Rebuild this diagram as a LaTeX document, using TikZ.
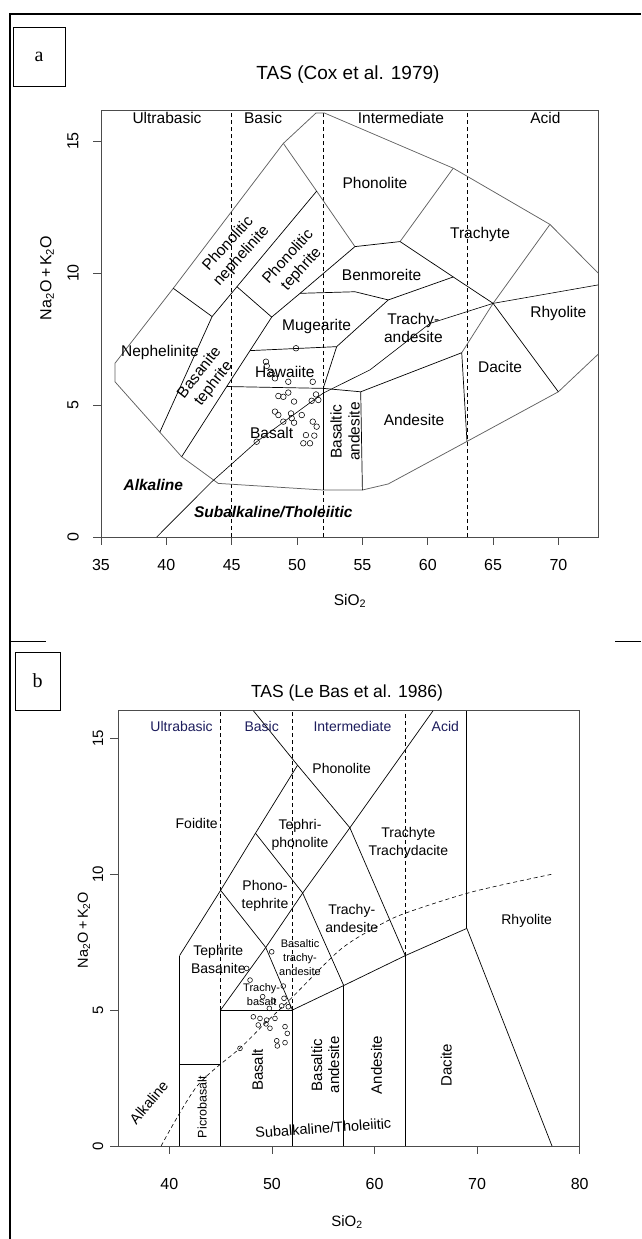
\documentclass[tikz,border=0pt]{standalone}
\usepackage{fontspec}
\setmainfont{Liberation Sans}
\newfontfamily\boxfont{Liberation Serif}
\definecolor{rimgray}{gray}{0.38}
\definecolor{zonenavy}{RGB}{28,28,92}
\tikzset{
  field/.style={line width=0.7pt},
  rim/.style={line width=0.75pt, draw=rimgray},
  zone/.style={dash pattern=on 4pt off 3pt, line width=0.6pt},
  plotframe/.style={line width=0.8pt, draw=black!70},
  alkline/.style={line width=0.6pt, dash pattern=on 4pt off 3pt},
  lbl/.style={inner sep=0pt, align=center, font=\fontsize{15.5}{18}\selectfont},
  blbl/.style={inner sep=0pt, align=center, font=\fontsize{14}{18}\selectfont},
  vlbl/.style={inner sep=0pt, align=center, font=\fontsize{15}{17}\selectfont},
  tinylbl/.style={inner sep=0pt, align=center, font=\fontsize{11}{14}\selectfont},
  ticklbl/.style={inner sep=0pt, font=\fontsize{16}{16}\selectfont},
  sample/.style={line width=0.55pt},
  panelbox/.style={draw, line width=0.8pt, inner sep=0pt, font=\boxfont\fontsize{20}{20}\selectfont},
}
\begin{document}
\begin{tikzpicture}[x=1pt,y=-1pt]
\useasboundingbox (0,0) rectangle (641,1239);
% page frame
\draw[line width=1.5pt] (10,1239) -- (10,14) -- (641,14);
\draw[line width=1pt] (10,641) -- (46,641);
\draw[line width=1pt] (615,641) -- (641,641);

% ---- panel a: Cox et al. 1979 ----
\node[panelbox, minimum width=52pt, minimum height=59pt] (taga) at (39,56.5) {a};
\node[font=\fontsize{19}{19}\selectfont] (titlea) at (348,75) {TAS (Cox et al. 1979)};
\node[font=\fontsize{15.5}{15.5}\selectfont] (xlaba) at (350,601) {SiO\textsubscript{2}};
\node[rotate=90, font=\fontsize{16}{16}\selectfont] (ylaba) at (47,278) {Na\textsubscript{2}O\,+\,K\textsubscript{2}O};
\begin{scope}[shift={(-356.45,537)}, x=13.07pt, y=26.4pt]
  \draw[plotframe] (35,0) rectangle (73.05,16.17);
  \foreach \s in {35,40,...,70} {
    \draw[plotframe] (\s,0) -- ++(0,-8pt);
    \node[ticklbl] at ([yshift=-28pt]\s,0) {\s};
  }
  \foreach \a in {0,5,10,15} {
    \draw[plotframe] (35,\a) -- ++(-8pt,0);
    \node[ticklbl, rotate=90] at ([xshift=-28pt]35,\a) {\a};
  }
  \foreach \s in {45,52,63}
    \draw[zone] (\s,0) -- (\s,16.17);
  % vertices
  \coordinate (o1) at (36.07,5.88);
  \coordinate (o2) at (36.07,6.58);
  \coordinate (o3) at (40.53,9.42);
  \coordinate (o4) at (48.95,14.91);
  \coordinate (o5) at (51.45,16.06);
  \coordinate (o6) at (52.1,16.06);
  \coordinate (o7) at (61.95,13.97);
  \coordinate (o8) at (69.35,11.84);
  \coordinate (o9) at (73.05,9.99);
  \coordinate (b1) at (41.17,3.04);
  \coordinate (b2) at (43.97,2.03);
  \coordinate (b3) at (52.0,1.78);
  \coordinate (b4) at (55.0,1.78);
  \coordinate (b5) at (56.98,2.01);
  \coordinate (b6) at (69.99,5.5);
  \coordinate (b7) at (73.05,6.93);
  \coordinate (ne) at (43.5,8.35);
  \coordinate (bt) at (39.5,3.97);
  \coordinate (pt1) at (51.5,13.1);
  \coordinate (pt2) at (45.4,9.48);
  \coordinate (pt3) at (48.06,8.33);
  \coordinate (ph) at (54.43,11.0);
  \coordinate (tr) at (57.88,11.19);
  \coordinate (bm1) at (50.23,9.23);
  \coordinate (bm2) at (54.43,9.29);
  \coordinate (bm3) at (56.98,8.98);
  \coordinate (bm4) at (61.95,9.85);
  \coordinate (jn) at (65.0,8.85);
  \coordinate (ad) at (62.6,6.98);
  \coordinate (ad0) at (63.0,3.62);
  \coordinate (hw1) at (46.4,7.06);
  \coordinate (hw2) at (53.03,7.21);
  \coordinate (bs1) at (44.62,5.7);
  \coordinate (bs2) at (52.0,5.63);
  \coordinate (bs3) at (54.87,5.5);
  % outline
  \draw[rim] (o1) -- (o2) -- (o3) -- (o4) -- (o5) -- (o6) -- (o7) -- (o8) -- (o9);
  \draw[rim] (o1) -- (bt) -- (b1) -- (b2) -- (b3) -- (b4) -- (b5) -- (ad0) -- (b6) -- (b7);
  \draw[rim] (o4) -- (pt1) -- (ph);
  \draw[rim] (tr) -- (o7);
  \draw[rim] (o8) -- (jn) -- (ad);
  % field boundaries
  \begin{scope}[field]
    \draw (o3) to (ne);
    \draw (ne) to (bt);
    \draw (ne) to (pt2);
    \draw (pt2) to (pt1);
    \draw (pt2) to (pt3);
    \draw (ph) to (bm1);
    \draw (bm1) to (pt3);
    \draw (pt3) to (hw1);
    \draw (hw1) to (bs1);
    \draw (bs1) to (b1);
    \draw (ph) to (tr);
    \draw (tr) to (bm4);
    \draw (bm4) to (jn);
    \draw (jn) to (b6);
    \draw (ad) to (ad0);
    \draw (bm1) to (bm2);
    \draw (bm2) to (bm3);
    \draw (bm3) to (bm4);
    \draw (hw1) to (hw2);
    \draw (hw2) to (bs2);
    \draw (hw2) to (bm3);
    \draw (bs1) to (bs2);
    \draw (bs2) to (bs3);
    \draw (bs3) to (ad);
    \draw (bs2) to (b3);
    \draw (bs3) to (b4);
  \end{scope}
  % alkaline / subalkaline divide
  \draw[field, line width=0.6pt] plot coordinates {(39.26,0) (43.47,2.09) (46.91,3.61) (52.0,5.45)
    (55.58,6.33) (60.17,8.09) (65.0,8.85) (73.05,9.55)};
  % samples
  \foreach \s/\a in {49.92/7.15, 47.62/6.64, 47.68/6.48, 48.06/6.2, 48.31/6.01, 49.33/5.88,
      51.2/5.88, 48.57/5.34, 48.95/5.31, 49.33/5.47, 49.77/5.13, 51.45/5.4, 51.12/5.16,
      51.63/5.19, 48.31/4.75, 48.57/4.62, 48.95/4.37, 49.54/4.68, 49.59/4.5, 49.77/4.33,
      50.36/4.62, 51.2/4.37, 51.5/4.18, 50.68/3.86, 51.32/3.84, 50.48/3.55, 50.99/3.55, 46.91/3.61}
    \draw[sample] (\s,\a) circle (2.8pt);
  % labels
  \node[lbl] (ultraa) at (40.05,15.87) {Ultrabasic};
  \node[lbl] (basica) at (47.4,15.87) {Basic};
  \node[lbl] (intera) at (57.95,15.87) {Intermediate};
  \node[lbl] (acida) at (69,15.87) {Acid};
  \node[lbl, rotate=48] (pneph) at (45.25,10.87) {Phonolitic\\nephelinite};
  \node[lbl, rotate=48] (pteph) at (49.84,10.37) {Phonolitic\\tephrite};
  \node[lbl] (neph) at (39.51,6.98) {Nephelinite};
  \node[lbl, rotate=52] (btep) at (43.09,6.01) {Basanite\\tephrite};
  \node[lbl] (phona) at (55.96,13.4) {Phonolite};
  \node[lbl] (tracha) at (64.0,11.44) {Trachyte};
  \node[lbl] (benm) at (56.47,9.92) {Benmoreite};
  \node[lbl] (mug) at (51.5,7.97) {Mugearite};
  \node[lbl] (haw) at (49.07,6.26) {Hawaiite};
  \node[lbl] (tanda) at (58.9,7.9) {Trachy-\\andesite};
  \node[lbl] (rhya) at (69.99,8.47) {Rhyolite};
  \node[lbl] (daca) at (65.53,6.43) {Dacite};
  \node[lbl] (andea) at (58.95,4.43) {Andesite};
  \node[lbl, rotate=90] (bandea) at (53.67,3.99) {Basaltic\\andesite};
  \node[lbl] (basalta) at (48.06,3.93) {Basalt};
  \node[lbl, font=\fontsize{15.5}{18}\selectfont\bfseries\itshape] (alka) at (39.0,1.97) {Alkaline};
  \node[lbl, font=\fontsize{15.5}{18}\selectfont\bfseries\itshape] (subalka) at (48.18,0.96) {Subalkaline/Tholeiitic};
\end{scope}

% ---- panel b: Le Bas et al. 1986 ----
\node[panelbox, minimum width=45pt, minimum height=58pt] (tagb) at (37.5,681) {b};
\node[font=\fontsize{17.5}{17.5}\selectfont] (titleb) at (347,693) {TAS (Le Bas et al. 1986)};
\node[font=\fontsize{15}{15}\selectfont] (xlabb) at (347,1222) {SiO\textsubscript{2}};
\node[rotate=90, font=\fontsize{14.5}{14.5}\selectfont] (ylabb) at (84,930) {Na\textsubscript{2}O\,+\,K\textsubscript{2}O};
\begin{scope}[shift={(-241.1,1146)}, x=10.26pt, y=27.2pt]
  \draw[plotframe, line width=1pt] (35,0) rectangle (80,16);
  \foreach \s in {40,50,...,80} {
    \draw[plotframe] (\s,0) -- ++(0,-8pt);
    \node[ticklbl] at ([yshift=-38pt]\s,0) {\s};
  }
  \foreach \a in {0,5,10,15} {
    \draw[plotframe] (35,\a) -- ++(-8pt,0);
    \node[ticklbl, rotate=90, font=\fontsize{15}{15}\selectfont] at ([xshift=-20pt]35,\a) {\a};
  }
  \coordinate (p0) at (41,0);
  \coordinate (p3) at (41,3);
  \coordinate (p7) at (41,7);
  \coordinate (q0) at (45,0);
  \coordinate (q3) at (45,3);
  \coordinate (q5) at (45,5);
  \coordinate (q9) at (45,9.4);
  \coordinate (tp) at (48.4,11.5);
  \coordinate (fp) at (52.5,14);
  \coordinate (ftop) at (48.2,16);
  \coordinate (tb) at (49.4,7.3);
  \coordinate (r0) at (52,0);
  \coordinate (r5) at (52,5);
  \coordinate (bt9) at (53,9.3);
  \coordinate (s0) at (57,0);
  \coordinate (s6) at (57,5.9);
  \coordinate (pt) at (57.6,11.7);
  \coordinate (u0) at (63,0);
  \coordinate (u7) at (63,7);
  \coordinate (ptop) at (65.7,16);
  \coordinate (v8) at (69,8);
  \coordinate (vtop) at (69,16);
  \coordinate (w0) at (77.3,0);
  \begin{scope}[field]
    \draw (p0) to (p3);
    \draw (p3) to (p7);
    \draw (p7) to (q9);
    \draw (q9) to (tp);
    \draw (tp) to (fp);
    \draw (fp) to (ftop);
    \draw (fp) to (pt);
    \draw (pt) to (ptop);
    \draw (p3) to (q3);
    \draw (q0) to (q3);
    \draw (q3) to (q5);
    \draw (q5) to (r5);
    \draw (r5) to (s6);
    \draw (s6) to (u7);
    \draw (u7) to (v8);
    \draw (r0) to (r5);
    \draw (s0) to (s6);
    \draw (u0) to (u7);
    \draw (v8) to (w0);
    \draw (v8) to (vtop);
    \draw (q5) to (tb);
    \draw (tb) to (r5);
    \draw (tb) to (bt9);
    \draw (bt9) to (s6);
    \draw (q9) to (tb);
    \draw (tp) to (bt9);
    \draw (bt9) to (pt);
    \draw (pt) to (u7);
  \end{scope}
  \draw[zone] (q5) -- (45,16);
  \draw[zone] (r5) -- (52,16);
  \draw[zone] (u7) -- (63,16);
  \draw[alkline] plot[smooth] coordinates {(39.2,0) (42.7,2.2) (46.9,3.6) (49.3,4.5) (51.8,5.4)
    (56.6,7.2) (60.2,8.06) (63,8.56) (69.6,9.35) (77.4,10.0)};
  \foreach \s/\a in {49.98/7.14, 47.54/6.53, 47.87/6.1, 51.11/5.88, 49.1/5.49, 50.14/5.33,
      51.18/5.43, 50.95/5.15, 51.6/5.12, 49.75/5.06, 48.19/4.75, 48.84/4.69, 49.49/4.63,
      50.3/4.69, 48.67/4.45, 49.42/4.49, 49.81/4.33, 51.28/4.39, 51.5/4.14, 50.47/3.87,
      50.53/3.68, 51.28/3.8, 46.89/3.59}
    \draw[sample] (\s,\a) circle (2.4pt);
  \node[blbl, text=zonenavy] (ultrab) at (41.2,15.44) {Ultrabasic};
  \node[blbl, text=zonenavy] (basicb) at (49.0,15.44) {Basic};
  \node[blbl, text=zonenavy] (interb) at (57.85,15.44) {Intermediate};
  \node[blbl, text=zonenavy] (acidb) at (66.9,15.44) {Acid};
  \node[blbl] (phonb) at (56.8,13.89) {Phonolite};
  \node[blbl] (foid) at (42.67,11.86) {Foidite};
  \node[blbl] (tphon) at (52.74,11.43) {Tephri-\\phonolite};
  \node[blbl] (ptep) at (49.33,9.19) {Phono-\\tephrite};
  \node[blbl] (trdac) at (63.3,11.13) {Trachyte\\Trachydacite};
  \node[blbl] (tandb) at (57.78,8.37) {Trachy-\\andesite};
  \node[blbl] (rhyb) at (74.83,8.27) {Rhyolite};
  \node[blbl] (tbas) at (44.78,6.84) {Tephrite\\Basanite};
  \node[tinylbl] (btand) at (52.74,6.94) {Basaltic\\trachy-\\andesite};
  \node[tinylbl] (tbasalt) at (49.0,5.55) {Trachy-\\basalt};
  \node[vlbl, rotate=90] (basaltb) at (48.6,2.79) {Basalt};
  \node[vlbl, rotate=90] (bandeb) at (55.2,2.98) {Basaltic\\andesite};
  \node[vlbl, rotate=90] (andeb) at (60.2,2.98) {Andesite};
  \node[vlbl, rotate=90] (dacb) at (67.0,2.98) {Dacite};
  \node[tinylbl, rotate=90, font=\fontsize{12.5}{14}\selectfont] (picro) at (43.2,1.43) {Picrobasalt};
  \node[blbl, rotate=50, font=\fontsize{14.5}{16}\selectfont] (alkb) at (38.0,1.6) {Alkaline};
  \node[blbl, rotate=4, font=\fontsize{14.5}{16}\selectfont] (subalkb) at (55.0,0.66) {Subalkaline/Tholeiitic};
\end{scope}
\end{tikzpicture}
\end{document}
